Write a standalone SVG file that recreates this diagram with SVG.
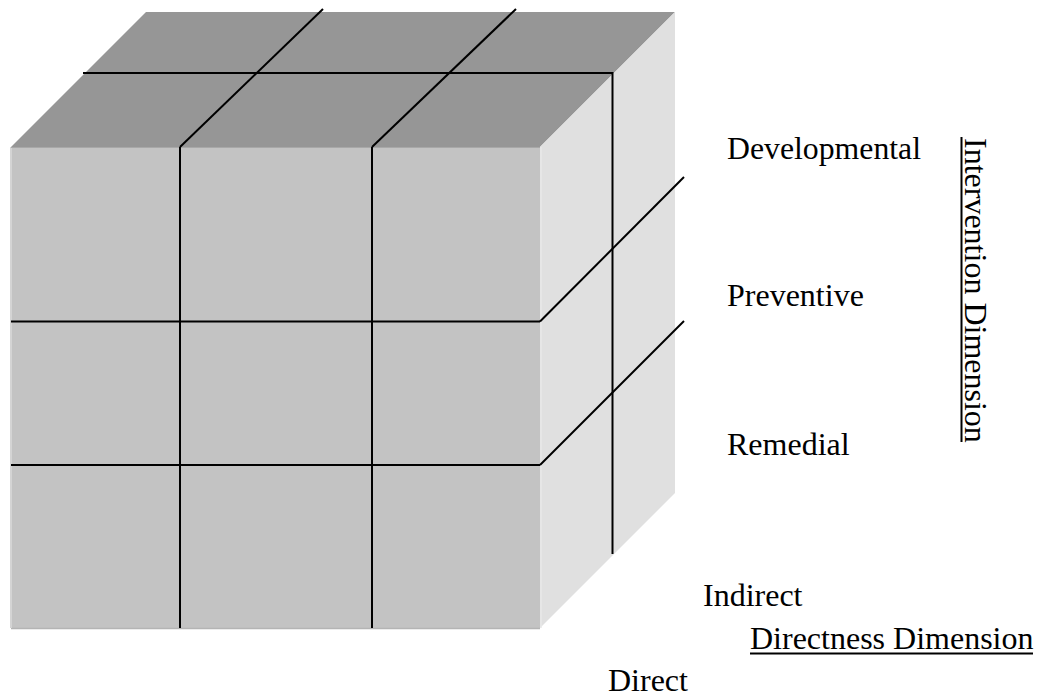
<svg xmlns="http://www.w3.org/2000/svg" width="1046" height="698" viewBox="0 0 1046 698">
<style>
.t{font-family:"Liberation Serif","Times New Roman",serif;font-size:32px;fill:#000}
.g{stroke:#000;stroke-width:2;fill:none;stroke-linecap:butt}
</style>
<rect width="1046" height="698" fill="#fff"/>
<g id="cube">
<polygon id="top" points="11,147 146,12 675,12 540,147" fill="#969696"/>
<polygon id="right" points="540,147 675,12 675,493 540,628" fill="#e0e0e0"/>
<rect id="front" x="11" y="147" width="529" height="481" fill="#c3c3c3"/>
<line x1="11" y1="628.5" x2="540" y2="628.5" stroke="#b4b4b4" stroke-width="1.5"/>
<line x1="11" y1="147" x2="11" y2="628" stroke="#d4d4d4" stroke-width="2"/>
<line x1="541" y1="147" x2="541" y2="628" stroke="#e8e8e8" stroke-width="1.5"/>
<line x1="11" y1="147.5" x2="540" y2="147.5" stroke="#a8a8a8" stroke-width="1"/>
</g>
<g id="connectors">
<line class="g" x1="180" y1="147" x2="180" y2="628"/>
<line class="g" x1="372" y1="147" x2="372" y2="628"/>
<line class="g" x1="11" y1="321.5" x2="540" y2="321.5"/>
<line class="g" x1="11" y1="465" x2="540" y2="465"/>
<line class="g" x1="180" y1="147" x2="323" y2="9"/>
<line class="g" x1="372" y1="147" x2="516" y2="9"/>
<polyline class="g" points="83,73 612.5,73 612.5,554"/>
<line class="g" x1="540" y1="321.5" x2="684" y2="177"/>
<line class="g" x1="540" y1="465" x2="684" y2="321"/>
</g>
<g id="labels">
<text class="t" x="727" y="159" textLength="194" lengthAdjust="spacingAndGlyphs">Developmental</text>
<text class="t" x="727" y="306">Preventive</text>
<text class="t" x="727" y="455">Remedial</text>
<text class="t" x="703" y="606">Indirect</text>
<text class="t" x="608" y="691">Direct</text>
<text class="t" x="750" y="649">Directness Dimension</text>
<line x1="750" y1="653.5" x2="1033" y2="653.5" stroke="#000" stroke-width="2"/>
<text class="t" transform="translate(965,138) rotate(90)">Intervention Dimension</text>
<line x1="961.5" y1="137" x2="961.5" y2="442" stroke="#000" stroke-width="2"/>
</g>
</svg>
